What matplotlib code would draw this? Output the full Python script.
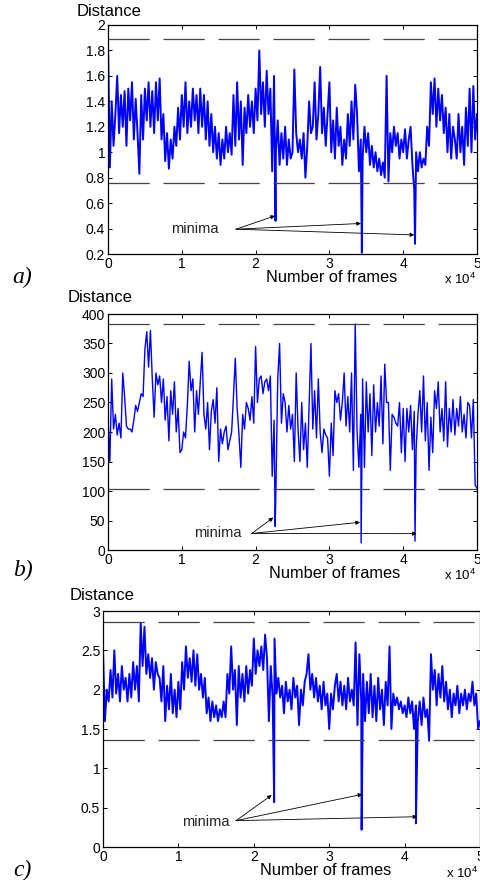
import numpy as np
import matplotlib
matplotlib.use("Agg")
import matplotlib.pyplot as plt

plt.rcParams['font.family'] = ['Liberation Sans', 'DejaVu Sans']
plt.rcParams['mathtext.default'] = 'regular'

# ---- data (one value every 250 frames) ----
frames = np.arange(0, 50001, 250)

dist_a = [1.88, 0.88, 1.4, 1.05, 1.3, 1.6, 1.15, 1.45, 1.2, 1.48, 1.05, 1.5,
          1.25, 1.55, 1.1, 1.42, 1.15, 0.83, 1.45, 1.1, 1.5, 1.25, 1.55, 1.2,
          1.48, 1.15, 1.55, 1.25, 1.58, 1.1, 1.3, 0.93, 1.15, 0.87, 1.1, 0.95,
          1.2, 1.05, 1.35, 1.1, 1.45, 1.2, 1.55, 1.15, 1.4, 1.2, 1.5, 1.25,
          1.45, 1.15, 1.5, 1.2, 1.45, 1.1, 1.4, 1.05, 1.3, 1.0, 1.2, 0.95,
          1.15, 0.9, 1.1, 0.95, 1.2, 1.0, 1.15, 0.98, 1.45, 1.05, 1.55, 1.1,
          1.4, 0.9, 1.35, 1.15, 1.45, 1.2, 1.4, 1.15, 1.5, 1.25, 1.8, 1.3,
          1.55, 1.2, 1.64, 1.3, 1.5, 0.85, 1.6, 1.0, 1.25, 0.9, 1.15, 0.95,
          1.2, 0.9, 1.1, 0.95, 1.0, 1.65, 1.15, 1.0, 1.1, 0.95, 1.15, 0.8,
          1.05, 1.4, 1.15, 1.2, 1.55, 1.1, 1.3, 1.67, 1.15, 1.35, 1.05, 1.3,
          1.55, 1.0, 1.25, 0.95, 1.35, 1.05, 1.2, 0.9, 1.1, 0.95, 1.3, 1.05,
          1.4, 1.1, 1.53, 1.3, 0.85, 1.1, 0.95, 1.2, 1.0, 1.15, 0.9, 1.05,
          0.88, 1.0, 0.85, 0.95, 0.82, 0.92, 0.8, 1.6, 0.77, 1.15, 1.0, 1.2,
          1.05, 1.15, 0.95, 1.1, 1.0, 1.18, 0.95, 1.1, 1.2, 0.9, 0.7, 1.0,
          0.85, 1.0, 0.88, 0.95, 0.9, 1.2, 1.05, 1.55, 1.3, 1.58, 1.2, 1.5,
          1.25, 1.45, 1.15, 1.35, 1.0, 1.3, 0.95, 1.2, 1.1, 0.95, 1.3, 1.0,
          1.2, 0.9, 1.35, 1.05, 1.5, 1.0, 1.52, 1.1, 1.3]

dist_b = [225, 150, 290, 205, 230, 195, 215, 190, 300, 260, 210, 205,
          205, 200, 220, 245, 235, 250, 265, 260, 340, 370, 310, 372,
          290, 225, 300, 280, 295, 250, 290, 220, 260, 185, 270, 230,
          285, 200, 240, 165, 170, 200, 190, 245, 320, 270, 290, 200,
          270, 230, 285, 335, 230, 205, 250, 170, 235, 255, 215, 275,
          150, 205, 180, 200, 210, 170, 185, 200, 260, 325, 240, 195,
          140, 230, 205, 250, 240, 220, 260, 215, 345, 250, 290, 295,
          265, 285, 290, 270, 295, 125, 220, 100, 290, 350, 215, 265,
          250, 200, 245, 205, 230, 150, 300, 205, 150, 250, 170, 215,
          140, 245, 350, 205, 270, 190, 290, 200, 165, 205, 195, 190,
          125, 215, 160, 270, 250, 265, 220, 250, 300, 210, 260, 200,
          300, 135, 383, 200, 140, 230, 290, 140, 285, 200, 265, 160,
          280, 200, 250, 210, 295, 180, 315, 250, 250, 135, 230, 225,
          215, 210, 250, 165, 240, 150, 240, 200, 245, 170, 235, 170,
          230, 270, 200, 295, 185, 250, 135, 225, 165, 270, 240, 285,
          200, 240, 185, 285, 175, 240, 200, 255, 195, 240, 210, 260,
          200, 230, 190, 250, 245, 190, 255, 110, 105]

dist_c = [2.5, 1.6, 2.0, 1.85, 2.25, 1.9, 2.5, 1.95, 2.2, 1.85, 2.3, 2.0,
          2.15, 1.85, 2.2, 1.9, 2.35, 2.0, 2.3, 1.85, 2.85, 2.3, 2.8, 2.2,
          2.45, 2.15, 2.4, 2.0, 2.35, 2.2, 2.15, 1.85, 2.3, 1.6, 2.05, 1.75,
          2.2, 1.7, 2.0, 1.65, 2.1, 1.75, 2.35, 2.0, 2.55, 2.15, 2.4, 2.1,
          2.5, 2.05, 2.45, 2.0, 2.2, 1.9, 2.15, 1.7, 1.9, 1.6, 1.85, 1.65,
          1.8, 1.6, 1.75, 1.65, 1.85, 1.65, 2.2, 1.95, 2.55, 2.0, 2.25, 1.55,
          2.3, 1.9, 2.2, 1.85, 2.3, 1.95, 2.25, 2.05, 2.65, 2.2, 2.5, 2.3,
          2.55, 2.25, 2.7, 2.4, 1.6, 2.3, 1.9, 2.65, 1.95, 2.15, 1.9, 2.05,
          1.7, 2.1, 1.85, 2.0, 1.75, 2.15, 1.9, 2.05, 1.55, 2.0, 1.8, 2.1,
          2.2, 2.45, 2.0, 2.2, 1.9, 2.15, 1.85, 2.05, 1.75, 2.1, 1.8, 1.95,
          1.5, 1.95, 1.75, 2.05, 2.2, 1.85, 2.1, 1.8, 2.05, 1.75, 2.15, 1.85,
          2.0, 1.8, 2.6, 1.55, 2.45, 1.85, 2.2, 1.6, 2.1, 1.7, 2.2, 1.65,
          2.05, 1.6, 2.15, 1.75, 2.0, 1.55, 2.1, 1.8, 2.55, 1.5, 1.95, 1.8,
          1.9, 1.75, 1.85, 1.7, 1.8, 1.65, 1.9, 1.7, 1.85, 1.5, 1.8, 1.6,
          1.85, 1.55, 1.9, 1.65, 1.75, 1.35, 2.45, 2.0, 2.25, 1.8, 2.2, 1.9,
          2.3, 1.85, 2.1, 1.75, 2.0, 1.65, 1.95, 1.8, 2.05, 1.7, 1.95, 1.8,
          2.0, 1.75, 1.95, 1.85, 2.1, 1.8, 1.95, 1.5, 1.6]

# the three minima (frame, value)
min_frames_a = [22700, 34400, 41600]
min_values_a = [0.46, 0.21, 0.28]
min_frames_b = [22650, 34300, 41600]
min_values_b = [40, 12, 15]
min_frames_c = [22700, 34300, 41500]
min_values_c = [0.57, 0.22, 0.30]

# dashed limits (upper, lower)
limits_a = [1.89, 0.76]
limits_b = [383, 104]
limits_c = [2.86, 1.36]

# "minima" label position, arrow origin and arrow tips
label_a = (11800, 0.40)
origin_a = (17340, 0.395)
tips_a = [(22630, 0.50), (34280, 0.44), (41500, 0.35)]
label_b = (14810, 28)
origin_b = (19470, 28)
tips_b = [(22400, 55), (34150, 47), (41830, 27.7)]
label_c = (13660, 0.32)
origin_c = (17640, 0.335)
tips_c = [(22370, 0.66), (34390, 0.67), (41690, 0.385)]

W, H = 481, 880
fig = plt.figure(figsize=(W / 100, H / 100), dpi=100)


def px(x, y):
    return x / W, 1 - y / H


def merge(dist, mf, mv):
    x = np.concatenate([frames, mf])
    y = np.concatenate([np.asarray(dist, float), mv])
    order = np.argsort(x, kind='stable')
    return x[order], y[order]


def panel(rect, dist, mf, mv, limits, ylim, yticks, ylabels,
          label, origin, tips, lw):
    ax = fig.add_axes(rect)
    x, y = merge(dist, mf, mv)
    ax.plot(x, y, color='#0000ff', lw=lw)
    for lv in limits:
        ax.plot([0, 50000], [lv, lv], color='#444444', lw=0.9,
                dashes=(33, 11))
    ax.set_xlim(0, 50000)
    ax.set_ylim(*ylim)
    ax.set_xticks(np.arange(0, 50001, 10000))
    ax.set_xticklabels(['0', '1', '2', '3', '4', '5'])
    ax.set_yticks(yticks)
    ax.set_yticklabels(ylabels)
    ax.tick_params(direction='in', top=True, right=True, length=3,
                   width=0.7, labelsize=10, pad=2)
    for s in ax.spines.values():
        s.set_linewidth(0.9)
    ax.text(label[0], label[1], 'minima', fontsize=10.5, ha='center',
            va='center', color='#222222')
    for t in tips:
        ax.annotate('', xy=t, xytext=origin,
                    arrowprops=dict(arrowstyle='-|>', lw=0.6, color='black',
                                    mutation_scale=6, shrinkA=0, shrinkB=0))
    return ax


panel([108 / W, 1 - 254 / H, 369 / W, 229 / H], dist_a,
      min_frames_a, min_values_a, limits_a, (0.2, 2.0),
      np.arange(0.2, 2.01, 0.2),
      ['0.2', '0.4', '0.6', '0.8', '1', '1.2', '1.4', '1.6', '1.8', '2'],
      label_a, origin_a, tips_a, 1.4)
panel([108 / W, 1 - 550 / H, 369 / W, 236 / H], dist_b,
      min_frames_b, min_values_b, limits_b, (0, 400),
      np.arange(0, 401, 50),
      ['0', '50', '100', '150', '200', '250', '300', '350', '400'],
      label_b, origin_b, tips_b, 1.0)
panel([103 / W, 1 - 847 / H, 377 / W, 236 / H], dist_c,
      min_frames_c, min_values_c, limits_c, (0, 3),
      np.arange(0, 3.01, 0.5),
      ['0', '0.5', '1', '1.5', '2', '2.5', '3'],
      label_c, origin_c, tips_c, 1.4)

# labels around each panel
for (dx, dy), (nx, ny), (ex, ey), (lx, ly), tag in [
        ((77, 12), (332, 277), (444, 279), (12, 277), 'a)'),
        ((68, 297), (335, 573), (444, 575), (13, 570), 'b)'),
        ((70, 595), (326, 870), (446, 873), (13, 870), 'c)')]:
    fig.text(*px(dx, dy), 'Distance', fontsize=12, ha='left', va='center')
    fig.text(*px(nx, ny), 'Number of frames', fontsize=11.8, ha='center',
             va='center')
    fig.text(*px(ex, ey), r'x 10$^{4}$', fontsize=9.5, ha='left', va='center')
    fig.text(*px(lx, ly), tag, fontsize=17, ha='left', va='center',
             family='Liberation Serif', style='italic')

fig.savefig('out.png', dpi=100)
